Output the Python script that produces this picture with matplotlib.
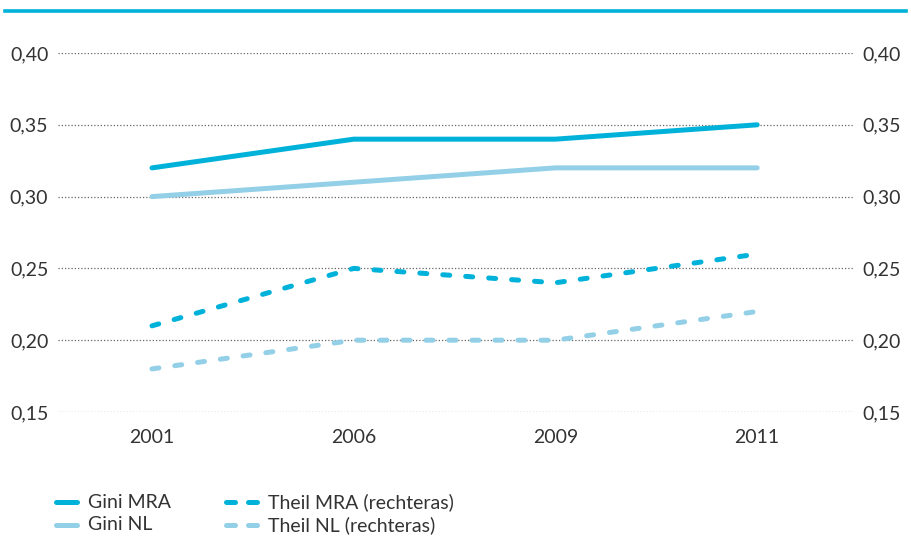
import matplotlib
matplotlib.use("Agg")
import matplotlib.pyplot as plt
from matplotlib.lines import Line2D
from matplotlib.ticker import FuncFormatter

# Data
years = ["2001", "2006", "2009", "2011"]
gini_mra = [0.32, 0.34, 0.34, 0.35]
gini_nl = [0.30, 0.31, 0.32, 0.32]
theil_mra = [0.21, 0.25, 0.24, 0.26]
theil_nl = [0.18, 0.20, 0.20, 0.22]
y_ticks = [0.15, 0.20, 0.25, 0.30, 0.35, 0.40]

dark = "#00b2d9"
light = "#93d0e7"
text_col = "#333333"

plt.rcParams["font.family"] = ["Lato", "DejaVu Sans"]

fig = plt.figure(figsize=(9.11, 5.43), dpi=100)
W, H = 911, 543
ax = fig.add_axes([58 / W, 1 - 412 / H, (853 - 58) / W, (412 - 53) / H])
ax2 = ax.twinx()

x = list(range(len(years)))
lw = 3.6
dash = (0, (1.4, 3.2))
series = [
    (ax, gini_mra, dark, "-", "Gini MRA"),
    (ax, gini_nl, light, "-", "Gini NL"),
    (ax2, theil_mra, dark, dash, "Theil MRA (rechteras)"),
    (ax2, theil_nl, light, dash, "Theil NL (rechteras)"),
]
for a, vals, col, ls, lab in series:
    a.plot(x, vals, color=col, lw=lw, ls=ls, solid_capstyle="round",
           dash_capstyle="round", zorder=3, label=lab)

fmt = FuncFormatter(lambda v, p: f"{v:.2f}".replace(".", ","))
fs = 14
for a in (ax, ax2):
    a.set_xlim(-0.466, 3.475)
    a.set_ylim(0.15, 0.40)
    a.set_yticks(y_ticks)
    a.yaxis.set_major_formatter(fmt)
    for s in a.spines.values():
        s.set_visible(False)
    a.tick_params(axis="both", length=0, labelsize=fs, colors=text_col)

ax.tick_params(axis="y", pad=7)
ax2.tick_params(axis="y", pad=6.5)
ax.set_xticks(x)
ax.set_xticklabels(years)
ax.tick_params(axis="x", pad=12)
ax.grid(axis="y", color="#666666", ls=(0, (1, 1.6)), lw=0.9)
ax.set_axisbelow(True)

# Rule across the top
fig.add_artist(Line2D([5 / W, 906 / W], [1 - 10.5 / H, 1 - 10.5 / H],
                      color=dark, lw=2.6, transform=fig.transFigure))

# Legend: two columns, solid keys left, dashed keys right
def px(xp, yp):
    return xp / W, 1 - yp / H

rows_y = [502, 525]
for (a, vals, col, ls, lab), i in zip(series, range(4)):
    yp = rows_y[i % 2]
    if i < 2:
        segs = [(55.5, 76.5)]
        tx = 88
    else:
        segs = [(225.5, 234.5), (247.5, 256.5)]
        tx = 268
    for x0, x1 in segs:
        (fx0, fy), (fx1, _) = px(x0, yp), px(x1, yp)
        fig.add_artist(Line2D([fx0, fx1], [fy, fy], color=col, lw=lw,
                              solid_capstyle="round", transform=fig.transFigure))
    fig.text(*px(tx, yp), lab, fontsize=fs, color=text_col, ha="left", va="center")

fig.savefig("out.png", dpi=100)
